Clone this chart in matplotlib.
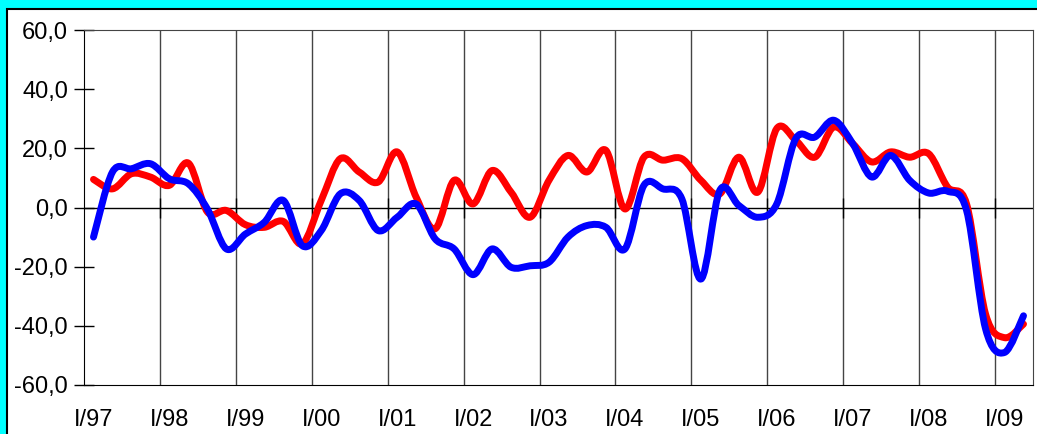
import numpy as np
import matplotlib.pyplot as plt
from matplotlib.path import Path
from matplotlib.patches import PathPatch, Rectangle

plt.rcParams['font.family'] = ['Liberation Sans', 'DejaVu Sans']

# quarterly values, I/97 .. II/09
red = [9.5, 6.3, 11.4, 10.3, 7.5, 15.0, -1.5, -1.0, -5.8, -6.7,
       -4.7, -12.3, 2.4, 16.5, 12.0, 8.6, 18.8, 3.5, -7.2, 9.2,
       1.2, 12.5, 5.2, -3.3, 9.2, 17.6, 12.0, 19.3, -0.5, 17.0,
       16.0, 16.5, 9.2, 4.6, 17.0, 5.2, 26.7, 22.7, 17.0, 27.2,
       21.6, 15.4, 18.8, 17.0, 18.2, 6.9, 1.2, -36.0, -44.0, -39.4]
blue = [-10.0, 12.0, 13.1, 14.8, 9.7, 8.0, -0.5, -14.0, -9.0, -5.0,
        2.4, -12.9, -7.8, 4.6, 2.4, -7.8, -3.3, 1.2, -10.6, -14.0,
        -22.7, -14.0, -20.2, -19.7, -18.5, -10.0, -6.1, -6.7, -14.0, 7.5,
        6.3, 2.9, -24.2, 5.8, 0.7, -3.3, 1.2, 23.3, 23.8, 29.5,
        21.6, 10.3, 17.6, 9.2, 4.9, 5.5, -1.0, -41.0, -49.0, -36.6]
years = ['97', '98', '99', '00', '01', '02', '03', '04', '05', '06', '07', '08', '09']


def smooth_path(x, y):
    """Bezier path through the points, Catmull-Rom style control points."""
    pts = np.column_stack([x, y])
    verts = [pts[0]]
    codes = [Path.MOVETO]
    n = len(pts)
    for i in range(n - 1):
        p0 = pts[max(i - 1, 0)]
        p1 = pts[i]
        p2 = pts[i + 1]
        p3 = pts[min(i + 2, n - 1)]
        c1 = p1 + (p2 - p0) / 6.0
        c2 = p2 - (p3 - p1) / 6.0
        verts += [c1, c2, p2]
        codes += [Path.CURVE4] * 3
    return Path(verts, codes)


fig = plt.figure(figsize=(10.37, 4.34), dpi=100, facecolor='#00ffff')
# white panel with black edge, cyan showing at left and top
fig.patches.append(Rectangle((6.5 / 1037, -0.1), 1.1, 1 - 8.5 / 434 + 0.1,
                             transform=fig.transFigure, facecolor='white',
                             edgecolor='black', linewidth=1.5, zorder=-10))

ax = fig.add_axes([84 / 1037, 1 - 385 / 434, 949 / 1037, 355 / 434])
ax.set_facecolor('white')

xq = np.arange(len(red)) + 0.5
ax.add_patch(PathPatch(smooth_path(xq, red), facecolor='none', edgecolor='#ff0000',
                       lw=5, capstyle='round', joinstyle='round', zorder=3))
ax.add_patch(PathPatch(smooth_path(xq, blue), facecolor='none', edgecolor='#0000ff',
                       lw=5, capstyle='round', joinstyle='round', zorder=4))

ax.set_xlim(0, 50)
ax.set_ylim(-60, 60)

# year gridlines and zero axis with its crossing ticks
for k in range(1, 13):
    ax.axvline(4 * k, color='#444444', lw=1, zorder=1)
ax.axhline(0, color='black', lw=1, zorder=2)
ax.plot(np.arange(4, 50, 4), np.zeros(12), ls='none', marker='|', ms=14,
        mew=1, color='black', zorder=2)

ax.set_yticks(np.arange(-60, 61, 20))
ax.set_yticklabels([f'{v:.1f}'.replace('.', ',') for v in np.arange(-60, 61, 20)])
ax.tick_params(axis='y', direction='inout', length=15, width=1, pad=4, labelsize=17)
ax.set_xticks(np.arange(0.5, 50, 4))
ax.set_xticklabels(['I/' + y for y in years])
ax.tick_params(axis='x', length=0, pad=17, labelsize=17)

for side in ['left', 'bottom']:
    ax.spines[side].set_color('black')
for side in ['top', 'right']:
    ax.spines[side].set_color('#444444')

fig.savefig('out.png', dpi=100, facecolor=fig.get_facecolor())
